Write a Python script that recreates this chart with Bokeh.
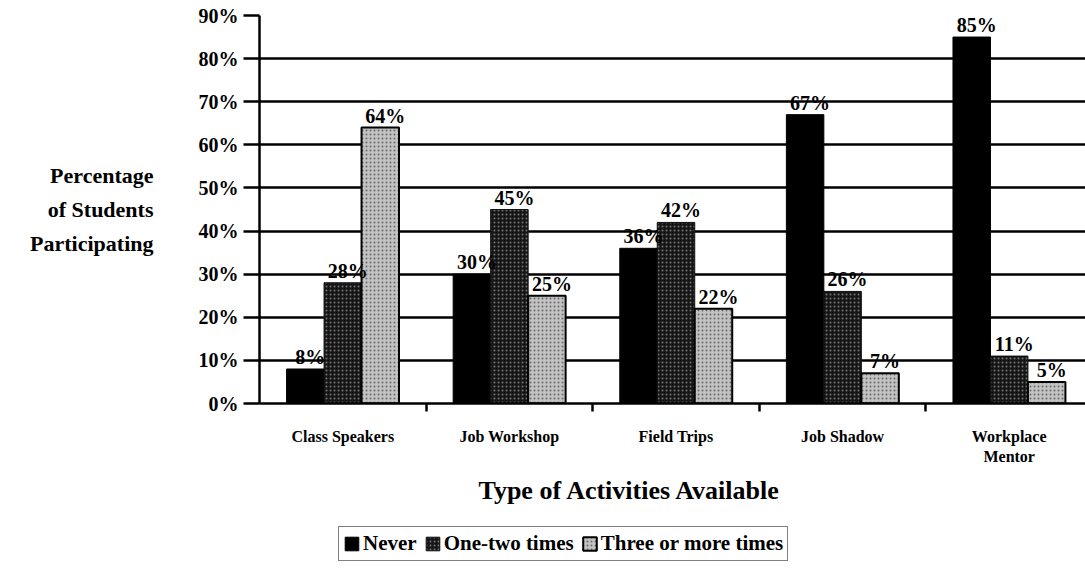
from bokeh.plotting import figure
from bokeh.models import (ColumnDataSource, Range1d, FixedTicker, PrintfTickFormatter,
                          LabelSet, Legend, LegendItem, Title)
from bokeh.layouts import column
from bokeh.transform import dodge
from bokeh.embed import file_html
from bokeh.resources import INLINE
import numpy as np

categories = ["Class Speakers", "Job Workshop", "Field Trips", "Job Shadow", "Workplace\nMentor"]
never = [8, 30, 36, 67, 85]
one_two = [28, 45, 42, 26, 11]
three_more = [64, 25, 22, 7, 5]
series_names = ["Never", "One-two times", "Three or more times"]
y_ticks = [0, 10, 20, 30, 40, 50, 60, 70, 80, 90]

FONT = "Liberation Serif"
pos = list(np.arange(len(categories)) + 0.5)

src = ColumnDataSource(dict(
    pos=pos, never=never, one_two=one_two, three_more=three_more,
    never_lbl=[f"{v}%" for v in never],
    one_two_lbl=[f"{v}%" for v in one_two],
    three_lbl=[f"{v}%" for v in three_more],
))

bw = 0.225
styles = [
    dict(fill_color="black", line_color="black", line_width=1),
    dict(fill_color="#161616", line_color="#111111", line_width=1,
         hatch_pattern="dot", hatch_color="#737373", hatch_scale=4, hatch_weight=1),
    dict(fill_color="#c2c2c2", line_color="black", line_width=2,
         hatch_pattern="dot", hatch_color="#6a6a6a", hatch_scale=4, hatch_weight=1),
]
cols = ["never", "one_two", "three_more"]
offs = [-bw, 0, bw]

p = figure(width=1085, height=510, output_backend="svg", toolbar_location=None,
           x_range=Range1d(0, 4.958), y_range=Range1d(0, 90),
           min_border_left=259, min_border_right=0, min_border_top=15, min_border_bottom=106)
p.outline_line_color = None
p.background_fill_color = "white"
p.border_fill_color = "white"

p.xgrid.grid_line_color = None
p.ygrid.grid_line_color = "black"
p.ygrid.grid_line_width = 2.5
p.ygrid.ticker = FixedTicker(ticks=y_ticks)

for c, o, st in zip(cols, offs, styles):
    p.vbar(x=dodge("pos", o, range=p.x_range), top=c, width=bw, source=src, **st)

for col, off, top in [("never_lbl", -bw, "never"), ("one_two_lbl", 0, "one_two"),
                      ("three_lbl", bw, "three_more")]:
    ls = LabelSet(x=dodge("pos", off + 0.03, range=p.x_range), y=top, text=col, source=src,
                  text_align="center", text_baseline="bottom", y_offset=1,
                  text_font=FONT, text_font_style="bold", text_font_size="20px",
                  text_color="black")
    p.add_layout(ls)

# y axis
ya = p.yaxis[0]
ya.ticker = FixedTicker(ticks=y_ticks)
ya.formatter = PrintfTickFormatter(format="%d%%")
ya.axis_line_color = "black"
ya.axis_line_width = 2.5
ya.major_tick_line_color = "black"
ya.major_tick_line_width = 2.5
ya.major_tick_out = 16
ya.major_tick_in = 0
ya.minor_tick_line_color = None
ya.major_label_standoff = 5
ya.major_label_text_font = FONT
ya.major_label_text_font_style = "bold"
ya.major_label_text_font_size = "20px"
ya.major_label_text_color = "black"
ya.axis_label = "Percentage\nof Students\nParticipating"
ya.axis_label_orientation = "horizontal"
ya.axis_label_standoff = 42
ya.axis_label_text_font = FONT
ya.axis_label_text_font_style = "bold"
ya.axis_label_text_font_size = "22px"
ya.axis_label_text_color = "black"
ya.axis_label_text_align = "center"
ya.axis_label_text_line_height = 1.35

# x axis
xa = p.xaxis[0]
xa.ticker = FixedTicker(ticks=pos, minor_ticks=[1, 2, 3, 4])
xa.major_label_overrides = {float(v): c for v, c in zip(pos, categories)}
xa.axis_line_color = "black"
xa.axis_line_width = 2.5
xa.major_tick_out = 0
xa.major_tick_in = 0
xa.major_tick_line_color = None
xa.minor_tick_line_color = "black"
xa.minor_tick_line_width = 2.5
xa.minor_tick_out = 8
xa.minor_tick_in = 0
xa.major_label_standoff = 16
xa.major_label_text_font = FONT
xa.major_label_text_font_style = "bold"
xa.major_label_text_font_size = "16px"
xa.major_label_text_color = "black"
xa.major_label_text_line_height = 1.2

xt = Title(text="Type of Activities Available", align="left", offset=219, standoff=12,
           text_font=FONT, text_font_style="bold", text_font_size="26px",
           text_color="black")
p.add_layout(xt, "below")

# legend strip (separate figure so the legend is not clipped by the chart frame)
lf = figure(width=1085, height=59, output_backend="svg", toolbar_location=None,
            x_range=Range1d(0, 4.958), y_range=Range1d(0, 90),
            x_axis_type=None, y_axis_type=None,
            min_border_left=259, min_border_right=0, min_border_top=0, min_border_bottom=0)
lf.outline_line_color = None
lf.xgrid.grid_line_color = None
lf.ygrid.grid_line_color = None
lrs = []
for c, o, st in zip(cols, offs, styles):
    r = lf.vbar(x=dodge("pos", o, range=lf.x_range), top=c, width=bw, source=src, **st)
    r.visible = False
    lrs.append(r)
legend = Legend(items=[LegendItem(label=n, renderers=[r]) for n, r in zip(series_names, lrs)],
                orientation="horizontal", location=(79, 8),
                label_text_font=FONT, label_text_font_style="bold",
                label_text_font_size="21px", label_text_color="black",
                glyph_width=17, glyph_height=17, label_standoff=3, spacing=7,
                padding=4, margin=0, inactive_fill_alpha=0,
                border_line_color="black", border_line_width=1.5,
                background_fill_color="white", background_fill_alpha=1)
lf.add_layout(legend, "center")

layout = column(p, lf, spacing=0)
open("out.html", "w").write(file_html(layout, INLINE))
